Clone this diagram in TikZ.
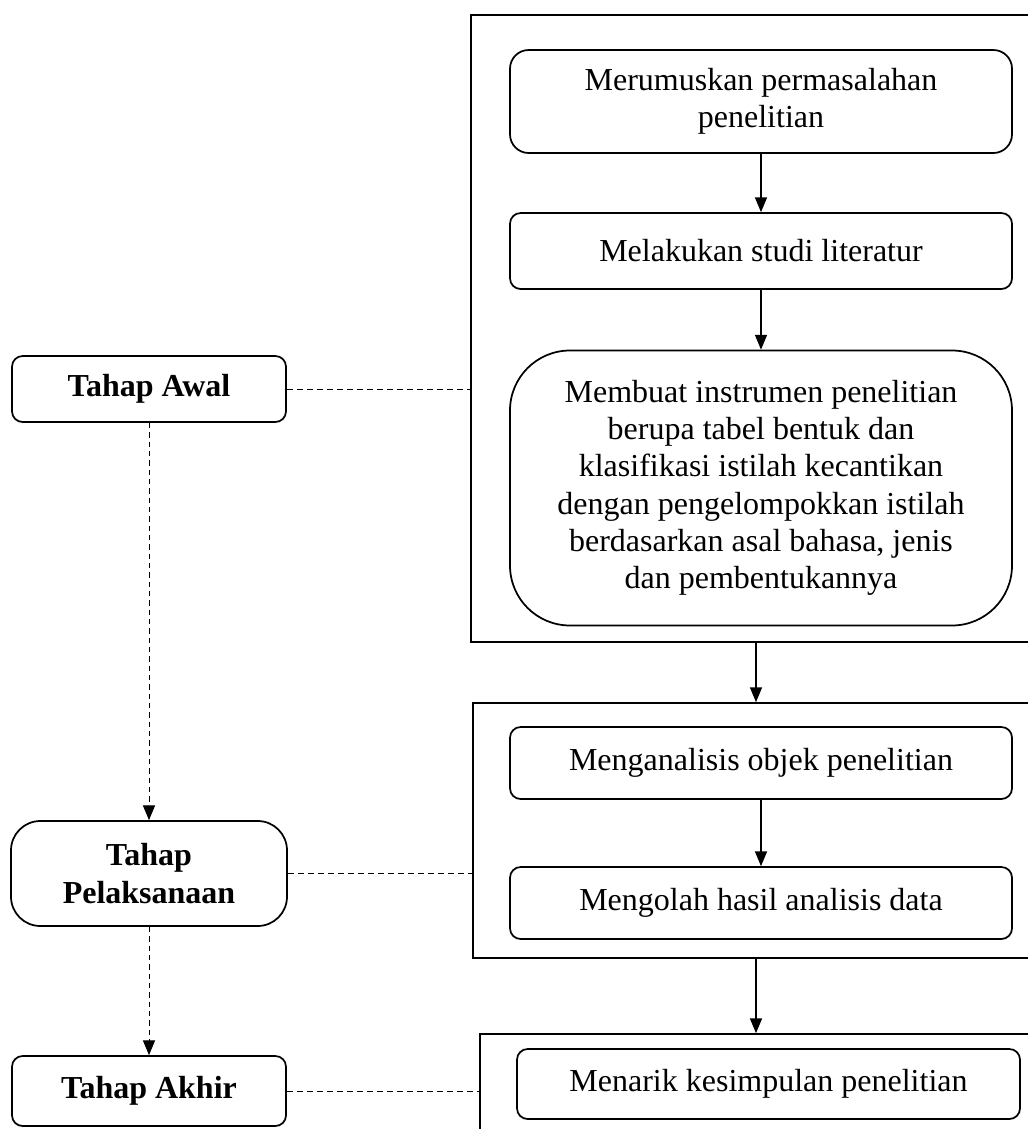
\documentclass[tikz,border=0pt]{standalone}
\usepackage{fontspec}
\setmainfont{Liberation Serif}
\usetikzlibrary{arrows.meta}
\begin{document}
\begin{tikzpicture}[x=0.75pt,y=-0.75pt,
  box/.style={draw, line width=1.3pt, rounded corners=8pt, align=center,
    font=\fontsize{24}{28}\selectfont, inner sep=0pt},
  stage/.style={box, font=\fontsize{24}{28}\selectfont\bfseries},
  frame/.style={draw, line width=1.3pt, inner sep=0pt},
  arr/.style={-{Triangle[width=9pt,length=11pt]}, line width=0.8pt},
  darr/.style={-{Triangle[width=9pt,length=11pt]}, line width=0.7pt, dash pattern=on 4pt off 3pt},
  dline/.style={line width=0.7pt, dash pattern=on 4.5pt off 3pt}]
\useasboundingbox (0,0) rectangle (1028,1129);
\clip (0,0) rectangle (1028,1129);

% frames
\node[frame, minimum width=427.5pt, minimum height=470.25pt] (big1) at (756,328.5) {};
\node[frame, minimum width=424.5pt, minimum height=191.25pt] (big2) at (756,830.5) {};
\node[frame, minimum width=414pt, minimum height=79.5pt] (big3) at (756,1087) {};

% inner steps
\node[box, rounded corners=14pt, minimum width=376.5pt, minimum height=77.25pt] (s1) at (761,101.5)
  {Merumuskan permasalahan\\penelitian};
\node[box, minimum width=376.5pt, minimum height=57pt] (s2) at (761,251)
  {Melakukan studi literatur};
\node[box, rounded corners=45pt, minimum width=376.5pt, minimum height=206.25pt] (s3) at (761,488)
  {Membuat instrumen penelitian\\berupa tabel bentuk dan\\klasifikasi istilah kecantikan\\dengan pengelompokkan istilah\\berdasarkan asal bahasa, jenis\\dan pembentukannya};
\node[box, minimum width=376.5pt, minimum height=54pt] (s4) at (761,763)
  {Menganalisis objek penelitian};
\node[box, minimum width=376.5pt, minimum height=54pt] (s5) at (761,903)
  {Mengolah hasil analisis data};
\node[box, minimum width=377.25pt, minimum height=52.5pt] (s6) at (768.5,1084)
  {Menarik kesimpulan penelitian};

% stages
\node[stage, minimum width=205.5pt, minimum height=49.5pt] (awal) at (149,389) {Tahap Awal};
\node[stage, rounded corners=22pt, minimum width=207pt, minimum height=78.75pt] (pel) at (149,873.5) {Tahap\\Pelaksanaan};
\node[stage, minimum width=205.5pt, minimum height=52.5pt] (akhir) at (149,1091) {Tahap Akhir};

% arrows
\draw[arr] (s1.south) -- (s2.north);
\draw[arr] (s2.south) -- (s3.north);
\draw[arr] (s4.south) -- (s5.north);
\draw[arr] (big1.south) -- (big2.north);
\draw[arr] (big2.south) -- (big3.north);

\draw[darr] (awal.south) -- (pel.north);
\draw[darr] (pel.south) -- (akhir.north);

\draw[dline] (awal.east) -- (awal.east -| big1.west);
\draw[dline] (pel.east) -- (pel.east -| big2.west);
\draw[dline] (akhir.east) -- (akhir.east -| big3.west);
\end{tikzpicture}
\end{document}
